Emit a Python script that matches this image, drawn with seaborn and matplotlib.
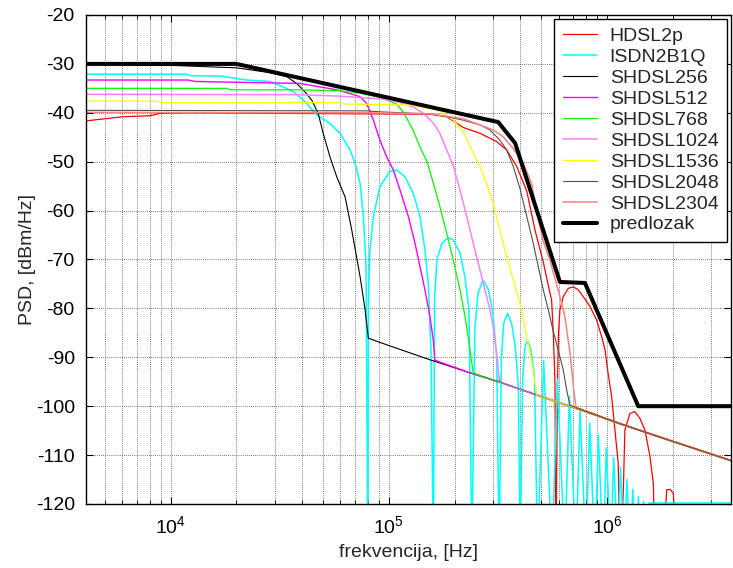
import numpy as np
import pandas as pd
import matplotlib
matplotlib.use("Agg")
import matplotlib.pyplot as plt
from matplotlib.ticker import LogLocator, NullFormatter, FixedLocator
import seaborn as sns

# ---------------- data (frequency in kHz, PSD in dBm/Hz) ----------------
# common low-level line that all SHDSL curves merge into
tail_khz = [100, 154, 236, 323, 475, 653, 1150, 1940, 3800]
tail_db = [-87.6, -90.5, -93.2, -95.1, -97.7, -99.8, -103.6, -107.0, -111.3]

hdsl2p_khz = [4.0, 6.07, 8.04, 8.93, 12.25, 154, 184, 219, 262, 312, 346.6, 385.6,
              428.5, 467.6, 510, 536, 557, 567, 577, 583, 593, 599, 608, 630, 664,
              700, 738, 778, 835, 896, 945, 979, 1009, 1050, 1087, 1125, 1146, 1186,
              1207, 1272, 1340, 1415, 1492, 1573, 1630, 1659, 1810, 1876, 1943, 2012,
              2083, 3800]
hdsl2p_db = [-41.7, -40.8, -40.6, -40.1, -40.0, -40.3, -40.8, -43.0, -44.2, -45.9, -47.6, -51,
             -56, -64, -70.5, -75, -78.3, -85, -95, -130, -95, -85, -80.3, -77.6, -75.9,
             -75.6, -76.2, -77.6, -79.6, -82.4, -85.8, -88.5, -93, -98.1, -104.9, -111.7, -130, -118,
             -104.9, -101.5, -101.1, -102.5, -104.9, -110.3, -115.8, -130, -130, -117.1, -117, -117.8,
             -130, -130]

isdn_khz = [4.0, 11.8, 12.3, 17, 22.3, 28.5, 32.8, 36.5, 41.3, 46.6, 53.7, 59.7, 66.4, 70, 73.8, 76.4, 78.6, 80,
            80.6, 81.9, 84.9, 91, 101.1, 108.6, 118.6, 129.4, 138.9, 146.3, 151.5, 155.9, 160,
            162, 166, 175, 187, 197, 212, 223, 233, 240,
            248, 256, 270, 285, 300, 312, 320,
            328, 336, 350, 365, 380, 392, 400,
            410, 420, 432, 448, 465, 480,
            512, 560, 592, 640, 672, 720, 752, 800, 832, 880, 912, 960, 992, 1040,
            1072, 1120, 1152, 1200, 1232, 1280, 1312, 1360, 1392, 1440, 1472, 1520,
            1560, 3800]
isdn_db = [-32.1, -32.1, -32.4, -32.5, -33.3, -33.6, -34.7, -35.7, -37.7, -40.4, -42.2, -44.2, -47.6, -50.3, -54.4, -61.2, -71.5, -130,
           -78.3, -68, -61.2, -55.1, -52, -51.7, -53.1, -56.5, -61.2, -68, -74.9, -88.5, -130,
           -78, -70, -66.7, -65.5, -66, -68.7, -73.5, -80.3, -130,
           -84, -77, -74.2, -76, -81, -90, -130,
           -90, -83, -81, -83, -88, -96, -130,
           -95, -88, -86.5, -88.5, -94, -130,
           -90.7, -130, -94.5, -130, -98, -130, -101, -130, -103.5, -130, -106, -130, -108.5, -130,
           -110.5, -130, -112.5, -130, -115, -130, -117, -130, -118.5, -130, -119.5, -130,
           -119.8, -119.8]

shdsl256_khz = [4.0, 10, 20, 23.1, 28.5, 34, 37.8, 41.2, 44.3, 47.4, 50, 53.7, 57.7, 63, 67.6, 73.8, 77.8, 80.5]
shdsl256_db = [-30.1, -30.3, -30.8, -31.2, -31.8, -32.6, -34, -35.7, -37.4, -40.1, -44.2, -49, -53.1, -57.2, -64, -73.5, -80.3, -86.1]

shdsl512_khz = [4.0, 12, 13, 23.1, 39.2, 57.7, 73.8, 79.1, 84.9, 91, 97.7, 104.8, 112.5, 122.8, 131.8, 138.9, 146.3, 154.3, 159.8, 162.6]
shdsl512_db = [-33.3, -33.3, -33.6, -33.8, -34.0, -35.3, -36.7, -38.1, -41.5, -45.6, -49, -51.7, -55.8, -61.2, -66.7, -71.5, -76.2, -81.7, -86.5, -90.6]

shdsl768_khz = [4.0, 18.1, 18.7, 39.2, 59.7, 73.8, 94, 109, 117, 129, 138.9, 149.6, 159, 171.4, 184, 197.3, 211.8, 223.4, 233, 243.6]
shdsl768_db = [-35.0, -35.0, -35.3, -35.3, -35.5, -36.0, -37.0, -38.3, -40, -43.5, -47, -50, -54, -59.2, -64.6, -70.1, -76.2, -81.7, -87, -93.3]

shdsl1024_khz = [4.0, 39.2, 59.7, 94, 112.5, 129.4, 143.9, 159.9, 171.4, 184, 197.3, 211.8, 227.5, 243.6, 257, 275.6, 290.5, 300.8, 311.8, 320.8]
shdsl1024_db = [-36.2, -36.3, -36.6, -37.2, -37.9, -38.8, -40.1, -42.1, -44.2, -47.6, -50.8, -55.8, -61.2, -66.7, -70.8, -76.2, -80.3, -83.7, -89.2, -94.6]

shdsl1536_khz = [4.0, 8.47, 9.12, 59.7, 63, 125, 165.6, 197.3, 215.8, 231, 248, 261.9, 280.5, 300.8, 322.7, 346.6, 371.7, 399, 420.5, 443.6, 462.7, 477.5]
shdsl1536_db = [-37.6, -37.6, -37.9, -37.9, -38.2, -38.4, -39.4, -41.5, -43.5, -45.9, -49, -51, -54.5, -58.5, -64, -69.4, -74.2, -79, -84, -89, -94, -97.8]

shdsl2048_khz = [4.0, 79.1, 91, 129.4, 154.3, 184, 219, 262, 290.5, 322.7, 346.6, 371.7, 399, 428.5, 459, 484, 510, 538, 565, 597, 630, 653, 676]
shdsl2048_db = [-39.5, -39.6, -39.8, -40.1, -40.2, -40.8, -41.5, -42.5, -43.5, -45.6, -47.6, -51, -55.5, -61.2, -66.7, -71.5, -76.2, -80.3, -84.4, -88.5, -92.6, -96.7, -99.8]

shdsl2304_khz = [4.0, 79.1, 154.3, 219, 262, 300.8, 334, 371.7, 413, 451, 475.5, 508, 547, 597, 641, 676, 705, 721]
shdsl2304_db = [-39.9, -40.0, -40.2, -41.2, -42.5, -43.5, -44.9, -47.3, -50.3, -54.5, -60, -66, -70.1, -76.2, -81.7, -89, -97, -100.3]

mask_khz = [4.0, 20, 317, 379, 608, 792, 1390, 3800]
mask_db = [-30, -30, -41.9, -46.2, -74.6, -74.8, -100, -100]

labels = ["HDSL2p", "ISDN2B1Q", "SHDSL256", "SHDSL512", "SHDSL768",
          "SHDSL1024", "SHDSL1536", "SHDSL2048", "SHDSL2304", "predlozak"]
yticks = list(range(-120, -19, 10))

# ---------------- style ----------------
sns.set_style("ticks")
plt.rcParams['font.family'] = ['Liberation Sans', 'DejaVu Sans']
plt.rcParams['mathtext.fontset'] = 'custom'
plt.rcParams['mathtext.rm'] = 'Liberation Sans'
plt.rcParams['mathtext.it'] = 'Liberation Sans:italic'
plt.rcParams['mathtext.default'] = 'regular'

FS = 14
fig = plt.figure(figsize=(7.33, 5.68), dpi=100)
ax = fig.add_axes([0.1173, 0.1127, 0.8800, 0.8609])
ax.set_xscale('log')


def with_tail(khz, db):
    last = khz[-1]
    k = list(khz) + [t for t in tail_khz if t > last]
    d = list(db) + [v for t, v in zip(tail_khz, tail_db) if t > last]
    return k, d


def draw(khz, db, color, lw, label, tail=False, tail_color=None, z=2):
    join = khz[-1]
    if tail:
        khz, db = with_tail(khz, db)
    df = pd.DataFrame({'f': np.asarray(khz, dtype=float) * 1e3, 'psd': db})
    sns.lineplot(data=df, x='f', y='psd', color=color, lw=lw, label=label,
                 estimator=None, sort=False, ax=ax, zorder=z)
    if tail and tail_color is not None:
        sub = df[df['f'] >= join * 1e3]
        sns.lineplot(data=sub, x='f', y='psd', color=tail_color, lw=lw,
                     estimator=None, sort=False, ax=ax, zorder=z, legend=False)


draw(hdsl2p_khz, hdsl2p_db, '#ff0000', 0.9, labels[0])
draw(isdn_khz, isdn_db, '#00ffff', 1.1, labels[1])
draw(shdsl256_khz, shdsl256_db, '#000000', 0.8, labels[2], tail=True)
draw(shdsl512_khz, shdsl512_db, '#ff00ff', 1.0, labels[3], tail=True)
draw(shdsl768_khz, shdsl768_db, '#00ff00', 0.9, labels[4], tail=True, tail_color='#40a040')
draw(shdsl1024_khz, shdsl1024_db, '#ff80ff', 1.1, labels[5], tail=True, tail_color='#a070b0')
draw(shdsl1536_khz, shdsl1536_db, '#ffff00', 0.9, labels[6], tail=True, tail_color='#c0b838')
draw(shdsl2048_khz, shdsl2048_db, '#505050', 0.8, labels[7], tail=True)
draw(shdsl2304_khz, shdsl2304_db, '#ff8080', 1.1, labels[8], tail=True, tail_color='#a0522d')
draw(mask_khz, mask_db, '#000000', 2.9, labels[9], z=3)

ax.set_xlim(4090, 3.70e6)
ax.set_ylim(-120, -20)
ax.set_yticks(yticks)
ax.set_yticklabels([str(v) for v in yticks])
ax.xaxis.set_major_locator(FixedLocator([1e4, 1e5, 1e6]))
ax.xaxis.set_minor_locator(LogLocator(base=10, subs=np.arange(2, 10), numticks=20))
ax.xaxis.set_minor_formatter(NullFormatter())
ax.set_xticklabels([r'$10^{4}$', r'$10^{5}$', r'$10^{6}$'])

ax.grid(True, which='both', axis='x', ls=(0, (1, 1.5)), color='0.3', lw=0.6)
ax.grid(True, which='major', axis='y', ls=(0, (1, 1.5)), color='0.3', lw=0.6)
ax.set_axisbelow(True)

ax.tick_params(which='both', direction='in', top=True, right=True, labelsize=FS, colors='k')
ax.tick_params(which='major', length=5, width=0.8, pad=8)
ax.tick_params(which='minor', length=3, width=0.6)
for s in ax.spines.values():
    s.set_color('k')
    s.set_linewidth(1.0)

ax.set_xlabel('frekvencija, [Hz]', fontsize=FS, labelpad=5)
ax.set_ylabel('PSD, [dBm/Hz]', fontsize=FS, labelpad=0)

leg = ax.legend(loc='upper right', fontsize=FS, frameon=True, fancybox=False,
                edgecolor='k', framealpha=1, borderaxespad=0.2, borderpad=0.45,
                labelspacing=0.17, handlelength=1.75, handletextpad=0.65)
leg.get_frame().set_linewidth(1.0)

fig.savefig('out.png', dpi=100)
